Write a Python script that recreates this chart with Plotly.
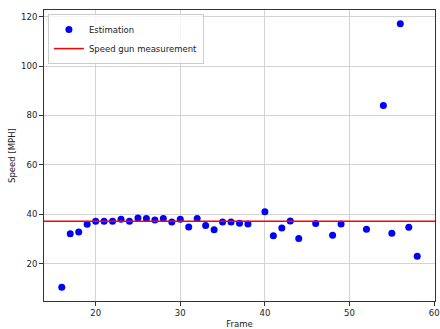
import plotly.graph_objects as go

frames = [16, 17, 18, 19, 20, 21, 22, 23, 24, 25, 26, 27, 28, 29, 30, 31, 32, 33, 34, 35, 36, 37, 38,
          40, 41, 42, 43, 44, 46, 48, 49, 52, 54, 55, 56, 57, 58]
speeds = [10.5, 32.1, 32.9, 36.0, 37.2, 37.2, 37.2, 38.0, 37.2, 38.5, 38.3, 37.7, 38.3, 36.9, 38.0, 34.9, 38.3,
          35.5, 33.8, 36.9, 36.9, 36.4, 36.1,
          41.0, 31.3, 34.5, 37.3, 30.2, 36.3, 31.5, 36.1, 34.0, 84.0, 32.4, 117.1, 34.8, 23.1]
speed_gun = 37.2
x_range = [13.9, 60.1]
y_range = [4.95, 122.65]
x_ticks = [20, 30, 40, 50, 60]
y_ticks = [20, 40, 60, 80, 100, 120]

FS = 8.5
fig = go.Figure()
fig.add_trace(go.Scatter(x=frames, y=speeds, mode="markers", name="Estimation",
                         marker=dict(color="blue", size=7, line=dict(width=0))))
fig.add_trace(go.Scatter(x=x_range, y=[speed_gun, speed_gun], mode="lines",
                         name="Speed gun measurement", line=dict(color="red", width=1.5)))

axis_common = dict(showline=True, linecolor="#333", linewidth=1, mirror=True,
                   ticks="outside", ticklen=4, tickcolor="#333", automargin=False,
                   showgrid=True, gridcolor="#d3d3d3", gridwidth=1, zeroline=False,
                   tickfont=dict(size=FS, color="#222"))
fig.update_xaxes(range=x_range, tickvals=x_ticks,
                 title=dict(text="Frame", font=dict(size=FS, color="#222"), standoff=3),
                 **axis_common)
fig.update_yaxes(range=y_range, tickvals=y_ticks,
                 title=dict(text="Speed [MPH]", font=dict(size=FS, color="#222"), standoff=4),
                 **axis_common)

fig.update_layout(
    width=440, height=329,
    margin=dict(l=44, r=5, t=10, b=28),
    plot_bgcolor="white", paper_bgcolor="white",
    font=dict(family="DejaVu Sans", size=FS, color="#222"),
    legend=dict(x=0.01, y=0.986, xanchor="left", yanchor="top",
                bgcolor="rgba(255,255,255,0.8)", bordercolor="#ccc", borderwidth=1,
                font=dict(size=FS), tracegroupgap=0, itemwidth=30),
    showlegend=True,
)
fig.write_html("out.html", config={"displayModeBar": False},
               post_script="document.body.style.margin='0';document.body.style.overflow='hidden';")
